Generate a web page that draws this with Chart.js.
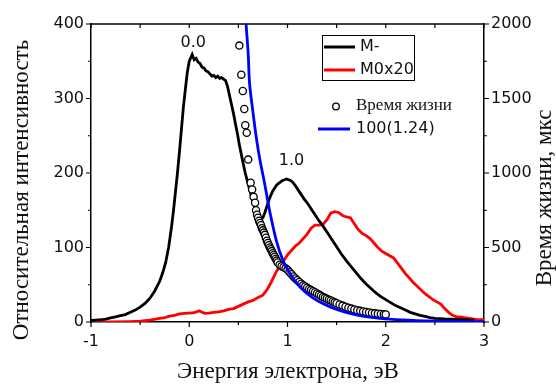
<!DOCTYPE html>
<html>
<head>
<meta charset="utf-8">
<script src="https://cdn.jsdelivr.net/npm/chart.js@4.4.1/dist/chart.umd.min.js"></script>
<style>
  html, body { margin: 0; padding: 0; background: #fff; }
  #wrap { width: 556px; height: 385px; }
</style>
</head>
<body>
<div id="wrap"><canvas id="chart" width="556" height="385"></canvas></div>
<script>
// Anion spectrum (M-), energy in eV
var energyM = [-1.00, -0.95, -0.90, -0.85, -0.80, -0.75, -0.70, -0.65, -0.60, -0.55, -0.50, -0.45, -0.40, -0.35, -0.30,
    -0.27, -0.24, -0.21, -0.18, -0.16, -0.14, -0.12, -0.10, -0.08, -0.06, -0.04, -0.02, 0.00, 0.02, 0.03,
    0.05, 0.07, 0.09, 0.11, 0.13, 0.15, 0.17, 0.19, 0.21, 0.23, 0.25, 0.27, 0.29, 0.31, 0.33, 0.35, 0.37,
    0.39, 0.41, 0.43, 0.45, 0.47, 0.49, 0.51, 0.53, 0.55, 0.57, 0.59, 0.61, 0.63, 0.65, 0.67, 0.69, 0.71,
    0.73, 0.75, 0.77, 0.79, 0.81, 0.83, 0.85, 0.87, 0.89, 0.91, 0.93, 0.95, 0.97, 0.99, 1.01, 1.03, 1.05,
    1.08, 1.11, 1.14, 1.17, 1.20, 1.23, 1.26, 1.29, 1.32, 1.35, 1.38, 1.41, 1.44, 1.47, 1.50, 1.55, 1.60,
    1.65, 1.70, 1.75, 1.80, 1.85, 1.90, 1.95, 2.00, 2.05, 2.10, 2.15, 2.20, 2.25, 2.30, 2.35, 2.40, 2.45,
    2.50, 2.55, 2.60, 2.70, 2.80, 2.90];
var intensityM = [2, 2.5, 3, 4, 5.5, 7, 8.5, 10, 13, 16, 20, 25, 32, 42, 55,
    66, 80, 100, 128, 150, 175, 200, 228, 258, 288, 312, 335, 350, 356, 359,
    352, 354, 349, 347, 342, 341, 337, 336, 333, 330, 331, 328, 330, 327, 328, 326, 324,
    316, 304, 292, 280, 266, 253, 238, 225, 212, 200, 190, 180, 170, 160, 152, 145, 140,
    138, 140, 147, 155, 163, 170, 176, 180, 184, 186, 188, 190, 191, 192, 191, 190, 188,
    183, 177, 171, 165, 160, 154, 148, 142, 136, 131, 125, 119, 113, 107, 101, 91, 82,
    74, 66, 58, 51, 45, 39, 34, 30, 26, 22, 19, 16, 13, 11, 9, 7.5, 6,
    5, 4.5, 4, 3.5, 3, 2.5];

// Neutral spectrum x20 (M0x20)
var energyM0 = [-1.00, -0.80, -0.60, -0.50, -0.40, -0.30, -0.25, -0.20, -0.15, -0.10, -0.05, 0.00, 0.05, 0.10,
    0.13, 0.16, 0.20, 0.25, 0.30, 0.35, 0.40, 0.45, 0.50, 0.55, 0.60, 0.65, 0.70, 0.75, 0.80, 0.84, 0.88,
    0.92, 0.96, 1.00, 1.04, 1.08, 1.12, 1.16, 1.20, 1.24, 1.28, 1.32, 1.36, 1.40, 1.44, 1.48, 1.52, 1.56,
    1.60, 1.64, 1.68, 1.72, 1.76, 1.80, 1.84, 1.88, 1.92, 1.96, 2.00, 2.04, 2.08, 2.12, 2.16, 2.20, 2.24,
    2.28, 2.32, 2.36, 2.40, 2.44, 2.48, 2.52, 2.56, 2.60, 2.64, 2.68, 2.72, 2.76, 2.80, 2.85, 2.90, 2.95, 3.00];
var intensityM0 = [0, 0, 0.5, 1, 2.5, 5, 6, 8, 9, 11, 11.5, 12, 12.5, 15,
    13, 11.5, 12, 13, 13.5, 15, 17, 18, 21, 24, 27, 29, 33, 36, 45, 55, 66,
    75, 82, 90, 96, 102, 106, 112, 118, 126, 130, 130, 131, 137, 146, 148, 147, 143,
    141, 140, 132, 124, 119, 116, 112, 106, 100, 95, 92, 89, 86, 79, 72, 65, 59,
    53, 48, 43, 38, 34, 30, 27, 24, 18, 13, 9, 7, 7, 6, 5, 4, 3, 3];

// Lifetime, microseconds (right axis)
var energyLife = [0.51, 0.53, 0.545, 0.56, 0.57, 0.585, 0.60, 0.625, 0.64, 0.655, 0.67, 0.68, 0.69, 0.70,
    0.71, 0.72, 0.73, 0.74, 0.75, 0.76, 0.77, 0.78, 0.79, 0.80, 0.81, 0.82, 0.83, 0.84, 0.85, 0.86, 0.87,
    0.88, 0.89, 0.90, 0.92, 0.94, 0.96, 0.98, 1.00, 1.02, 1.04, 1.06, 1.08, 1.10, 1.12, 1.14, 1.16, 1.18,
    1.20, 1.22, 1.24, 1.26, 1.28, 1.30, 1.32, 1.34, 1.36, 1.38, 1.40, 1.42, 1.44, 1.46, 1.48, 1.50, 1.53,
    1.56, 1.59, 1.62, 1.65, 1.68, 1.71, 1.74, 1.77, 1.80, 1.83, 1.86, 1.89, 1.92, 1.95, 1.98, 2.00];
var lifetime = [1855, 1660, 1550, 1430, 1320, 1270, 1090, 935, 890, 840, 800, 750, 720, 700,
    680, 665, 650, 630, 615, 600, 585, 565, 545, 530, 515, 500, 488, 476, 462, 450, 438,
    425, 412, 400, 385, 375, 368, 360, 350, 335, 320, 305, 292, 280, 268, 257, 246, 238,
    230, 222, 214, 207, 200, 192, 184, 176, 168, 162, 156, 150, 144, 138, 132, 126, 118,
    110, 103, 96, 90, 84, 79, 75, 71, 67, 64, 61, 58, 56, 54, 52, 51];

// Fit curve 100(1.24)
var energyFit = [0.57, 0.578, 0.60, 0.614, 0.65, 0.68, 0.716, 0.767, 0.817, 0.885, 0.95, 1.02, 1.12, 1.25,
    1.39, 1.53, 1.70, 1.90, 2.10, 2.40, 2.70, 3.00];
var lifetimeFit = [2060, 2000, 1800, 1600, 1400, 1250, 1100, 930, 750, 550, 420, 330, 240, 165,
    115, 78, 48, 27, 16, 8, 4, 2];

var xTicks = [-1, 0, 1, 2, 3];
var leftTicks = [0, 100, 200, 300, 400];
var rightTicks = [0, 500, 1000, 1500, 2000];

var sansFont = '"DejaVu Sans", "Liberation Sans", sans-serif';
var serifFont = '"Liberation Serif", "DejaVu Serif", serif';

function pairs(xs, ys) {
    return xs.map(function (x, i) { return {x: x, y: ys[i]}; });
}

// draws frame, ticks (major + minor), peak labels, legends and axis titles
var decorPlugin = {
    id: 'decor',
    afterDraw: function (chart) {
        var ctx = chart.ctx, a = chart.chartArea;
        var sx = chart.scales.x, sy = chart.scales.y, sy2 = chart.scales.y2;
        ctx.save();
        ctx.strokeStyle = '#000';
        ctx.lineWidth = 1.5;

        // frame top
        ctx.beginPath();
        ctx.moveTo(a.left, a.top);
        ctx.lineTo(a.right, a.top);
        ctx.stroke();

        ctx.lineWidth = 1.2;
        ctx.beginPath();
        for (var v = -1; v <= 3; v += 0.5) {
            var px = sx.getPixelForValue(v);
            var major = Math.abs(v - Math.round(v)) < 1e-6;
            ctx.moveTo(px, a.bottom);
            ctx.lineTo(px, a.bottom + (major ? 5 : 3));
            ctx.moveTo(px, a.top);
            ctx.lineTo(px, a.top + 4);
        }
        for (var w = 0; w <= 400; w += 50) {
            var py = sy.getPixelForValue(w);
            ctx.moveTo(a.left, py);
            ctx.lineTo(a.left - (w % 100 === 0 ? 5 : 3), py);
        }
        for (var u = 0; u <= 2000; u += 250) {
            var py2 = sy2.getPixelForValue(u);
            ctx.moveTo(a.right, py2);
            ctx.lineTo(a.right + (u % 500 === 0 ? 5 : 3), py2);
        }
        ctx.stroke();

        // peak labels
        ctx.fillStyle = '#111';
        ctx.font = '16px ' + sansFont;
        ctx.textAlign = 'center';
        ctx.textBaseline = 'middle';
        ctx.fillText('0.0', sx.getPixelForValue(0.04), sy.getPixelForValue(375));
        ctx.fillText('1.0', sx.getPixelForValue(1.04), sy.getPixelForValue(216));

        // boxed legend
        ctx.lineWidth = 1;
        ctx.strokeRect(322.5, 35.5, 92, 45);
        ctx.lineWidth = 3;
        ctx.strokeStyle = '#000';
        ctx.beginPath(); ctx.moveTo(324, 47); ctx.lineTo(355, 47); ctx.stroke();
        ctx.strokeStyle = '#f00';
        ctx.beginPath(); ctx.moveTo(324, 70); ctx.lineTo(355, 70); ctx.stroke();
        ctx.textAlign = 'left';
        ctx.fillText('M-', 360, 47);
        ctx.fillText('M0x20', 360, 70);

        // second legend
        ctx.lineWidth = 1.3;
        ctx.strokeStyle = '#000';
        ctx.beginPath(); ctx.arc(336, 106.5, 3.3, 0, Math.PI * 2); ctx.stroke();
        ctx.font = '17px ' + serifFont;
        ctx.fillText('Время жизни', 356, 106);
        ctx.lineWidth = 3;
        ctx.strokeStyle = '#00f';
        ctx.beginPath(); ctx.moveTo(318, 129); ctx.lineTo(350, 129); ctx.stroke();
        ctx.font = '16px ' + sansFont;
        ctx.fillText('100(1.24)', 356, 129);

        // axis titles
        ctx.font = '23px ' + serifFont;
        ctx.textAlign = 'center';
        ctx.fillText('Энергия электрона, эВ', 288, 372);
        ctx.save();
        ctx.translate(22, 190);
        ctx.rotate(-Math.PI / 2);
        ctx.fillText('Относительная интенсивность', 0, 0);
        ctx.restore();
        ctx.save();
        ctx.translate(545, 198);
        ctx.rotate(-Math.PI / 2);
        ctx.fillText('Время жизни, мкс', 0, 0);
        ctx.restore();

        ctx.restore();
    }
};

var tickFont = {family: sansFont, size: 16};
function plainLabel(value) { return String(value); }

new Chart(document.getElementById('chart'), {
    type: 'scatter',
    data: {
        datasets: [
            {
                label: '100(1.24)',
                data: pairs(energyFit, lifetimeFit),
                yAxisID: 'y2',
                showLine: true,
                borderColor: '#0000ff',
                borderWidth: 2.8,
                pointRadius: 0,
                tension: 0.3
            },
            {
                label: 'Время жизни',
                data: pairs(energyLife, lifetime),
                yAxisID: 'y2',
                showLine: false,
                pointRadius: 3.6,
                pointBorderWidth: 1.3,
                pointBorderColor: '#000',
                pointBackgroundColor: '#fff'
            },
            {
                label: 'M-',
                data: pairs(energyM, intensityM),
                yAxisID: 'y',
                showLine: true,
                borderColor: '#000',
                borderWidth: 2.8,
                pointRadius: 0
            },
            {
                label: 'M0x20',
                data: pairs(energyM0, intensityM0),
                yAxisID: 'y',
                showLine: true,
                borderColor: '#ff0000',
                borderWidth: 2.8,
                pointRadius: 0
            }
        ]
    },
    options: {
        responsive: false,
        animation: false,
        devicePixelRatio: 1,
        layout: {padding: {top: 24, left: 0, right: 0, bottom: 0}},
        plugins: {legend: {display: false}, tooltip: {enabled: false}},
        scales: {
            x: {
                type: 'linear',
                min: -1, max: 3,
                afterBuildTicks: function (s) { s.ticks = xTicks.map(function (v) { return {value: v}; }); },
                afterFit: function (s) { s.height = 63; },
                ticks: {font: tickFont, color: '#111', padding: 10, maxRotation: 0, callback: plainLabel},
                grid: {display: false, drawTicks: false},
                border: {display: true, color: '#000', width: 1.5}
            },
            y: {
                position: 'left',
                min: 0, max: 400,
                afterBuildTicks: function (s) { s.ticks = leftTicks.map(function (v) { return {value: v}; }); },
                afterFit: function (s) { s.width = 91; },
                ticks: {font: tickFont, color: '#111', padding: 7, callback: plainLabel},
                grid: {display: false, drawTicks: false},
                border: {display: true, color: '#000', width: 1.5}
            },
            y2: {
                position: 'right',
                min: 0, max: 2000,
                afterBuildTicks: function (s) { s.ticks = rightTicks.map(function (v) { return {value: v}; }); },
                afterFit: function (s) { s.width = 72; },
                ticks: {font: tickFont, color: '#111', padding: 7, callback: plainLabel},
                grid: {display: false, drawTicks: false},
                border: {display: true, color: '#000', width: 1.5}
            }
        }
    },
    plugins: [decorPlugin]
});
</script>
</body>
</html>
